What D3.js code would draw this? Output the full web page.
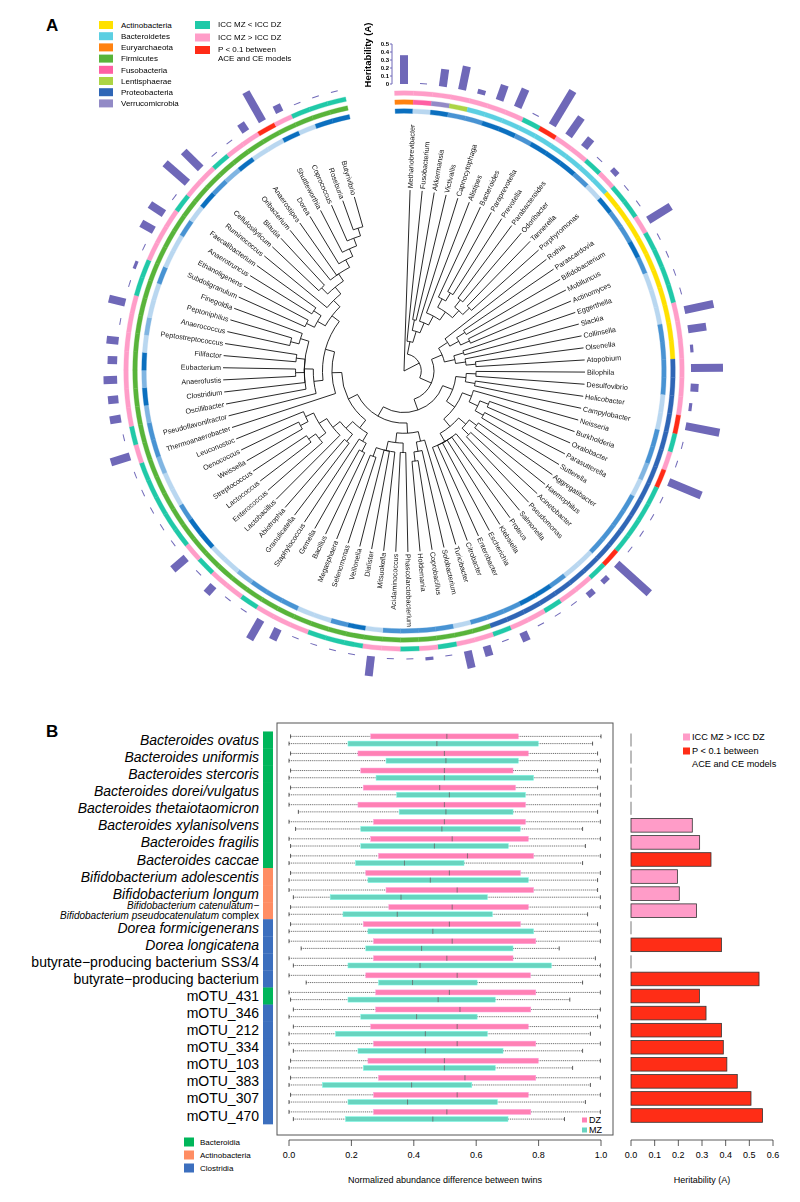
<!DOCTYPE html>
<html>
<head>
<meta charset="utf-8">
<script src="https://cdn.jsdelivr.net/npm/d3@7"></script>
<style>
  body { margin: 0; background: #fff; }
  svg { font-family: "Liberation Sans", Arial, sans-serif; }
</style>
</head>
<body>
<svg id="chart" width="800" height="1202"></svg>
<script>
// ---------------- data: panel A ----------------
const genera = ["Methanobrevibacter","Fusobacterium","Akkermansia","Victivallis","Capnocytophaga","Alistipes",
  "Bacteroides","Paraprevotella","Prevotella","Parabacteroides","Odoribacter","Tannerella","Porphyromonas",
  "Rothia","Parascardovia","Bifidobacterium","Mobiluncus","Actinomyces","Eggerthella","Slackia","Collinsella",
  "Olsenella","Atopobium","Bilophila","Desulfovibrio","Helicobacter","Campylobacter","Neisseria","Burkholderia",
  "Oxalobacter","Parasutterella","Sutterella","Aggregatibacter","Haemophilus","Acinetobacter","Pseudomonas",
  "Salmonella","Proteus","Klebsiella","Escherichia","Enterobacter","Citrobacter","Turicibacter","Solobacterium",
  "Coprobacillus","Holdemania","Phascolarctobacterium","Acidaminococcus","Mitsuokella","Dialister","Veillonella",
  "Selenomonas","Megasphaera","Bacillus","Gemella","Staphylococcus","Granulicatella","Abiotrophia","Lactobacillus",
  "Enterococcus","Lactococcus","Streptococcus","Weissella","Oenococcus","Leuconostoc","Thermoanaerobacter",
  "Pseudoflavonifractor","Oscillibacter","Clostridium","Anaerofustis","Eubacterium","Filifactor",
  "Peptostreptococcus","Anaerococcus","Peptoniphilus","Finegoldia","Subdoligranulum","Ethanoligenens",
  "Anaerotruncus","Faecalibacterium","Ruminococcus","Cellulosilyticum","Blautia","Oribacterium","Anaerostipes",
  "Dorea","Shuttleworthia","Coprococcus","Roseburia","Butyrivibrio"];

// tree topology (leaf order = genera)
const bacteroidetes = ["Capnocytophaga", ["Alistipes", [["Bacteroides", ["Paraprevotella", "Prevotella"]],
  [["Parabacteroides", "Odoribacter"], ["Tannerella", "Porphyromonas"]]]]];
const actino = [
  ["Rothia", [["Parascardovia", "Bifidobacterium"], ["Mobiluncus", "Actinomyces"]]],
  [["Eggerthella", "Slackia"], ["Collinsella", ["Olsenella", "Atopobium"]]]
];
const proteo = [
  [["Bilophila", "Desulfovibrio"], ["Helicobacter", "Campylobacter"]],
  [
    ["Neisseria", [["Burkholderia", "Oxalobacter"], ["Parasutterella", "Sutterella"]]],
    [
      [["Aggregatibacter", "Haemophilus"], ["Acinetobacter", "Pseudomonas"]],
      ["Salmonella", "Proteus", "Klebsiella", "Escherichia", "Enterobacter", "Citrobacter"]
    ]
  ]
];
const erysipelo = ["Turicibacter", ["Solobacterium", ["Coprobacillus", "Holdemania"]]];
const negativi = [["Phascolarctobacterium", "Acidaminococcus"],
  ["Mitsuokella", "Dialister", "Veillonella", ["Selenomonas", "Megasphaera"]]];
const bacilli = [
  [["Bacillus", "Gemella"], "Staphylococcus"],
  [["Granulicatella", "Abiotrophia"], ["Lactobacillus", [["Enterococcus", ["Lactococcus", "Streptococcus"]],
    [["Weissella", "Oenococcus"], "Leuconostoc"]]]]
];
const lachno = ["Oribacterium", "Anaerostipes", ["Dorea", ["Shuttleworthia", ["Coprococcus", ["Roseburia", "Butyrivibrio"]]]]];
const clostridia = [
  "Thermoanaerobacter",
  [
    ["Pseudoflavonifractor", ["Oscillibacter", "Clostridium", ["Anaerofustis", "Eubacterium"],
      ["Filifactor", "Peptostreptococcus"], [["Anaerococcus", "Peptoniphilus"], "Finegoldia"]]],
    [
      [["Subdoligranulum", "Ethanoligenens"], ["Anaerotruncus", "Faecalibacterium"]],
      ["Ruminococcus", [["Cellulosilyticum", "Blautia"], lachno]]
    ]
  ]
];
const tree = ["Methanobrevibacter", [["Fusobacterium", [["Akkermansia", "Victivallis"], bacteroidetes]],
  [actino, [proteo, [[erysipelo, negativi], [bacilli, clostridia]]]]]];

// phylum of each leaf, as runs in leaf order
const phylumRuns = [["Euryarchaeota", 1], ["Fusobacteria", 1], ["Verrucomicrobia", 1], ["Lentisphaerae", 1],
  ["Bacteroidetes", 9], ["Actinobacteria", 10], ["Proteobacteria", 19], ["Firmicutes", 48]];
const phyla = ["Actinobacteria","Bacteroidetes","Euryarchaeota","Firmicutes","Fusobacteria","Lentisphaerae","Proteobacteria","Verrucomicrobia"];
const phylumColors = ["#ffe100","#5ccfe2","#ff8210","#58b43a","#ff5fa3","#acd444","#2f66b6","#928ac6"];

// inner ring shade per leaf (d dark, m medium, l light, v very light)
const innerShade = ["d","v","d","m","m","d","d","m","d","d","d","m","v","d","m","m","d","m","v","v",
  "v","m","m","m","m","v","v","m","m","l","v","m","m","m","m","v","v","m","d","d",
  "m","m","m","v","m","m","m","m","v","d","m","v","v","m","m","m","l","v","v","d",
  "d","m","v","v","l","m","m","l","d","l","d","v","l","v","v","m","v","v","m","v",
  "d","m","l","d","v","v","d","v","d","d"];

// ICC ring per leaf: T = ICC MZ < ICC DZ, P = ICC MZ > ICC DZ, R = P < 0.1
const iccCode = ["P","P","P","P","P","P","P","T","R","P","P","T","P","T","T","P","T","T","T","T",
  "P","P","P","P","P","P","R","T","P","R","T","T","T","T","R","T","P","P","T","P",
  "P","T","P","P","T","P","T","P","P","T","T","T","P","P","P","T","P","P","T","P",
  "T","T","T","T","T","P","T","P","P","P","P","P","P","P","T","T","P","P","P","T",
  "P","P","T","P","P","R","P","T","T","T"];
const iccLegend = ["ICC MZ < ICC DZ", "ICC MZ > ICC DZ", "P < 0.1 between|ACE and CE models"];
const iccColors = {T: "#20c9a8", P: "#ff9dc8", R: "#ff2b17"};

// heritability (A) per leaf
const heritA = [0.36,0,0.22,0.30,0.06,0.20,0.25,0,0.50,0.28,0.14,0,0.07,0,0,0.33,0,0,0,0,
  0.37,0.23,0.04,0.40,0.10,0.04,0.43,0,0,0.44,0,0,0,0,0.55,0.07,0.08,0,0,0,
  0.12,0,0.13,0.22,0,0.04,0,0,0.25,0,0,0,0,0.15,0.28,0,0,0.13,0,0.22,
  0,0,0,0,0,0.25,0,0.14,0.13,0.17,0.12,0.15,0,0.21,0,0.04,0,0.18,0.21,0,
  0.37,0.30,0,0,0.12,0.42,0.10,0,0,0];
const heritTicks = [0, 0.1, 0.2, 0.3, 0.4, 0.5];

// ---------------- data: panel B ----------------
const speciesLabels = ["Bacteroides ovatus","Bacteroides uniformis","Bacteroides stercoris","Bacteroides dorei/vulgatus",
  "Bacteroides thetaiotaomicron","Bacteroides xylanisolvens","Bacteroides fragilis","Bacteroides caccae",
  "Bifidobacterium adolescentis","Bifidobacterium longum",
  "Bifidobacterium catenulatum\u2212|Bifidobacterium pseudocatenulatum| complex",
  "Dorea formicigenerans","Dorea longicatena","butyrate\u2212producing bacterium SS3/4","butyrate\u2212producing bacterium",
  "mOTU_431","mOTU_346","mOTU_212","mOTU_334","mOTU_103","mOTU_383","mOTU_307","mOTU_470"];
const italicRows = 13;
const speciesClass = ["Bacteroidia","Bacteroidia","Bacteroidia","Bacteroidia","Bacteroidia","Bacteroidia","Bacteroidia","Bacteroidia",
  "Actinobacteria","Actinobacteria","Actinobacteria","Clostridia","Clostridia","Clostridia","Clostridia",
  "Bacteroidia","Clostridia","Clostridia","Clostridia","Clostridia","Clostridia","Clostridia","Clostridia"];
const classNames = ["Bacteroidia", "Actinobacteria", "Clostridia"];
const classColors = ["#00b65a", "#ff8d63", "#3c6fbe"];

// [min, Q1, median, Q3, max] of normalized abundance difference
const dzStats = [
  [0.005,0.262,0.506,0.735,1.0],[0.005,0.221,0.498,0.767,0.989],[0.005,0.230,0.498,0.718,0.989],
  [0.005,0.238,0.483,0.726,0.989],[0.0,0.221,0.498,0.758,0.998],[0.0,0.271,0.498,0.758,0.998],
  [0.0,0.262,0.523,0.767,0.998],[0.005,0.287,0.572,0.784,0.998],[0.005,0.246,0.514,0.742,0.998],
  [0.0,0.311,0.539,0.784,0.989],[0.005,0.320,0.523,0.767,0.998],[0.005,0.238,0.514,0.742,0.989],
  [0.0,0.271,0.523,0.791,0.998],[0.0,0.271,0.506,0.718,0.982],[0.0,0.246,0.539,0.774,0.998],
  [0.0,0.278,0.514,0.791,0.998],[0.014,0.278,0.548,0.775,0.998],[0.014,0.262,0.539,0.767,0.998],
  [0.0,0.271,0.539,0.791,0.998],[0.005,0.253,0.498,0.799,0.998],[0.005,0.287,0.564,0.791,0.998],
  [0.005,0.271,0.539,0.767,0.998],[0.0,0.271,0.506,0.775,0.998]];
const mzStats = [
  [0.0,0.189,0.474,0.799,0.973],[0.0,0.311,0.503,0.735,0.998],[0.0,0.279,0.498,0.784,0.998],
  [0.0,0.345,0.514,0.758,0.998],[0.030,0.353,0.503,0.718,0.989],[0.021,0.230,0.490,0.741,0.941],
  [0.005,0.230,0.466,0.703,0.950],[0.0,0.213,0.370,0.561,0.941],[0.0,0.253,0.453,0.767,0.989],
  [0.014,0.132,0.359,0.636,0.998],[0.0,0.173,0.347,0.652,0.957],[0.0,0.253,0.461,0.784,0.998],
  [0.039,0.246,0.425,0.718,0.866],[0.014,0.189,0.420,0.841,0.998],[0.055,0.287,0.396,0.603,0.941],
  [0.005,0.189,0.478,0.661,0.900],[0.0,0.230,0.409,0.603,0.989],[0.0,0.149,0.437,0.636,0.966],
  [0.014,0.221,0.437,0.686,0.941],[0.0,0.238,0.498,0.661,0.909],[0.0,0.107,0.393,0.586,0.966],
  [0.0,0.189,0.380,0.668,0.950],[0.014,0.181,0.461,0.702,0.883]];
const heritB = [0,0,0,0,0,0.259,0.290,0.338,0.196,0.204,0.277,0,0.382,0,0.541,
  0.289,0.317,0.382,0.390,0.405,0.449,0.507,0.556];
const heritBSig = [0,0,0,0,0,0,0,1,0,0,0,0,1,0,1,1,1,1,1,1,1,1,1];
const diffTicks = [0, 0.2, 0.4, 0.6, 0.8, 1.0];
const heritBTicks = [0, 0.1, 0.2, 0.3, 0.4, 0.5, 0.6];

// ================= panel A =================
const svg = d3.select('#chart');
const cx = 404, cy = 371;
const rad = Math.PI / 180;
const gA = svg.append('g').attr('transform', `translate(${cx},${cy})`);

const angle = d3.scalePoint().domain(genera).range([0, 346]);
const step = angle.step();
const leafR = 181;

const root = d3.hierarchy(tree, d => Array.isArray(d) ? d : null);
d3.cluster().size([346, 1]).separation(() => 1)(root);
const maxDepth = d3.max(root.descendants().filter(d => d.children), d => d.depth);
const rNode = d3.scalePow().exponent(0.8).domain([0, maxDepth]).range([0, 150]);
root.each(d => { d.r = d.children ? rNode(d.depth) : leafR; });

const P = (a, r) => [r * Math.sin(a * rad), -r * Math.cos(a * rad)];
function elbow(l) {
  const s = l.source, t = l.target;
  const [x1, y1] = P(t.x, t.r), [x2, y2] = P(t.x, s.r), [x3, y3] = P(s.x, s.r);
  const sweep = s.x > t.x ? 1 : 0;
  const large = Math.abs(s.x - t.x) > 180 ? 1 : 0;
  return `M${x1},${y1}L${x2},${y2}A${s.r},${s.r} 0 ${large} ${sweep} ${x3},${y3}`;
}

gA.append('g').selectAll('path').data(root.links()).join('path')
  .attr('d', elbow).attr('fill', 'none').attr('stroke', '#111').attr('stroke-width', 0.9);

// opacity < 1 keeps the small rotated labels in grey antialiasing
gA.append('g').attr('opacity', 0.99).selectAll('text').data(root.leaves()).join('text')
  .attr('transform', d => `rotate(${d.x - 90}) translate(${leafR + 2},0)${d.x >= 180 ? ' rotate(180)' : ''}`)
  .attr('text-anchor', d => d.x >= 180 ? 'end' : 'start')
  .attr('dy', '0.35em').attr('font-size', 7.2).attr('fill', '#111')
  .text(d => d.data);

// rings
const leafPhylum = phylumRuns.flatMap(([p, n]) => d3.range(n).map(() => p));
const phylumColor = d3.scaleOrdinal().domain(phyla).range(phylumColors);
const shadeColor = d3.scaleOrdinal().domain(["d","m","l","v"]).range(["#0b6fbf","#4893d3","#80b5e2","#b9d7f0"]);
const arc = d3.arc();
function ring(r, w, colorOf) {
  gA.append('g').selectAll('path').data(genera).join('path')
    .attr('d', d => arc({innerRadius: r - w / 2, outerRadius: r + w / 2,
      startAngle: (angle(d) - step / 2) * rad, endAngle: (angle(d) + step / 2) * rad}))
    .attr('fill', (d, i) => colorOf(i)).attr('stroke', (d, i) => colorOf(i)).attr('stroke-width', 0.3);
}
ring(260, 4.5, i => shadeColor(innerShade[i]));
ring(269, 4.5, i => phylumColor(leafPhylum[i]));
ring(278, 4.5, i => iccColors[iccCode[i]]);

// heritability bars
const barBase = 287;
const hScale = d3.scaleLinear().domain([0, 0.5]).range([0, 40]);
const hColor = '#6f68b8';
const bars = gA.append('g').selectAll('g').data(genera).join('g')
  .attr('transform', d => `rotate(${angle(d)})`);
bars.filter((d, i) => heritA[i] > 0).append('rect')
  .attr('x', -4).attr('width', 8)
  .attr('y', d => -(barBase + hScale(heritA[genera.indexOf(d)])))
  .attr('height', d => hScale(heritA[genera.indexOf(d)]))
  .attr('fill', hColor);
bars.filter((d, i) => heritA[i] === 0).append('line')
  .attr('x1', -3.5).attr('x2', 3.5).attr('y1', -(barBase + 1)).attr('y2', -(barBase + 1))
  .attr('stroke', hColor).attr('stroke-width', 1);

// heritability axis
const axX = 392;
const axScale = d3.scaleLinear().domain([0, 0.5]).range([cy - barBase, cy - barBase - 40]);
const axG = svg.append('g').attr('transform', `translate(${axX},0)`);
axG.append('line').attr('y1', axScale(0)).attr('y2', axScale(0.5)).attr('stroke', hColor).attr('stroke-width', 1);
axG.selectAll('line.t').data(heritTicks).join('line').attr('class', 't')
  .attr('x1', -2).attr('x2', 0).attr('y1', d => axScale(d)).attr('y2', d => axScale(d))
  .attr('stroke', hColor);
axG.selectAll('text').data(heritTicks).join('text')
  .attr('x', -3).attr('y', d => axScale(d)).attr('dy', '0.35em').attr('text-anchor', 'end')
  .attr('font-size', 6).attr('font-weight', 'bold').text(d => d === 0 ? '0' : d.toFixed(1));
svg.append('text').attr('transform', `translate(371,55) rotate(-90)`).attr('text-anchor', 'middle')
  .attr('font-size', 9.5).attr('font-weight', 'bold').text('Heritability (A)');

// panel A legends
svg.append('text').attr('x', 46).attr('y', 31).attr('font-size', 17).attr('font-weight', 'bold').text('A');
const legA = svg.append('g').selectAll('g').data(phyla).join('g')
  .attr('transform', (d, i) => `translate(99,${25 + i * 11.2})`);
legA.append('rect').attr('x', 0).attr('y', -4).attr('width', 14).attr('height', 8).attr('fill', d => phylumColor(d));
legA.append('text').attr('x', 22).attr('dy', '0.35em').attr('font-size', 8).text(d => d);

const legI = svg.append('g').selectAll('g').data(iccLegend).join('g')
  .attr('transform', (d, i) => `translate(195,${25 + i * 12.5})`);
legI.append('rect').attr('x', 0).attr('y', -4).attr('width', 15).attr('height', 8)
  .attr('fill', (d, i) => iccColors[["T", "P", "R"][i]]);
legI.append('text').attr('x', 23).attr('font-size', 8)
  .selectAll('tspan').data(d => d.split('|')).join('tspan')
  .attr('x', 23).attr('y', (d, i) => i * 8.5).attr('dy', '0.3em').text(d => d);

// ================= panel B =================
svg.append('text').attr('x', 46).attr('y', 737).attr('font-size', 17).attr('font-weight', 'bold').text('B');

const rows = d3.range(speciesLabels.length);
const yRow = d3.scalePoint().domain(rows).range([740, 1115.5]);
const rowH = yRow.step();
const xB = d3.scaleLinear().domain([0, 1]).range([289, 601]);
const xH = d3.scaleLinear().domain([0, 0.6]).range([631, 773]);
const classColor = d3.scaleOrdinal().domain(classNames).range(classColors);

// labels
const labG = svg.append('g');
rows.forEach(i => {
  const lab = speciesLabels[i];
  if (lab.includes('|')) {
    const parts = lab.split('|');
    const t = labG.append('text').attr('text-anchor', 'end').attr('font-size', 10);
    t.append('tspan').attr('x', 259).attr('y', yRow(i) - 5.5).attr('dy', '0.35em')
      .attr('font-style', 'italic').text(parts[0]);
    t.append('tspan').attr('x', 259).attr('y', yRow(i) + 5).attr('dy', '0.35em')
      .attr('font-style', 'italic').text(parts[1]);
    t.append('tspan').text(parts[2]);
  } else {
    labG.append('text').attr('x', 259).attr('y', yRow(i)).attr('dy', '0.36em')
      .attr('text-anchor', 'end').attr('font-size', 14)
      .attr('font-style', i < italicRows ? 'italic' : 'normal').text(lab);
  }
});

// class bar
svg.append('g').selectAll('rect').data(rows).join('rect')
  .attr('x', 263).attr('width', 10)
  .attr('y', i => yRow(i) - rowH / 2).attr('height', rowH + 0.3)
  .attr('fill', i => classColor(speciesClass[i]));

// box frame
svg.append('rect').attr('x', 277).attr('y', 723).attr('width', 336).attr('height', 412)
  .attr('fill', 'none').attr('stroke', '#555').attr('stroke-width', 1);

function drawBoxes(stats, offset, fill) {
  const g = svg.append('g');
  stats.forEach((s, i) => {
    const y = yRow(i) + offset;
    const [mn, q1, md, q3, mx] = s;
    g.append('line').attr('x1', xB(mn)).attr('x2', xB(q1)).attr('y1', y).attr('y2', y)
      .attr('stroke', '#333').attr('stroke-width', 0.7).attr('stroke-dasharray', '1.1,0.8');
    g.append('line').attr('x1', xB(q3)).attr('x2', xB(mx)).attr('y1', y).attr('y2', y)
      .attr('stroke', '#333').attr('stroke-width', 0.7).attr('stroke-dasharray', '1.1,0.8');
    [mn, mx].forEach(v => g.append('line').attr('x1', xB(v)).attr('x2', xB(v))
      .attr('y1', y - 2).attr('y2', y + 2).attr('stroke', '#333').attr('stroke-width', 0.8));
    g.append('rect').attr('x', xB(q1)).attr('width', xB(q3) - xB(q1)).attr('y', y - 2.5).attr('height', 5)
      .attr('fill', fill).attr('stroke', d3.color(fill).brighter(0.6)).attr('stroke-width', 0.5);
    g.append('line').attr('x1', xB(md)).attr('x2', xB(md)).attr('y1', y - 2.5).attr('y2', y + 2.5)
      .attr('stroke', '#666').attr('stroke-width', 0.8);
  });
}
drawBoxes(dzStats, -3.6, '#ff80b4');
drawBoxes(mzStats, 3.6, '#68d4bf');

// DZ / MZ legend
[["DZ", "#ff80b4", 1120], ["MZ", "#68d4bf", 1130]].forEach(([t, c, y]) => {
  svg.append('rect').attr('x', 582).attr('y', y - 2.5).attr('width', 5).attr('height', 5).attr('fill', c);
  svg.append('text').attr('x', 589).attr('y', y).attr('dy', '0.35em').attr('font-size', 9).text(t);
});

// heritability bars in B
const hb = svg.append('g');
rows.forEach(i => {
  const v = heritB[i];
  if (v > 0) {
    hb.append('rect').attr('x', xH(0)).attr('width', xH(v) - xH(0))
      .attr('y', yRow(i) - 6.8).attr('height', 13.6)
      .attr('fill', heritBSig[i] ? '#ff2d16' : '#ff9cc8')
      .attr('stroke', '#333').attr('stroke-width', 0.8);
  } else {
    hb.append('line').attr('x1', xH(0)).attr('x2', xH(0))
      .attr('y1', yRow(i) - 6.5).attr('y2', yRow(i) + 6.5).attr('stroke', '#555').attr('stroke-width', 0.8);
  }
});

// legend for heritability bars
[["ICC MZ > ICC DZ", "#ff9cc8", 737], ["P < 0.1 between|ACE and CE models", "#ff2d16", 751]].forEach(([t, c, y]) => {
  svg.append('rect').attr('x', 683).attr('y', y - 3.5).attr('width', 7).attr('height', 7).attr('fill', c);
  t.split('|').forEach((s, k) => svg.append('text').attr('x', 692).attr('y', y + k * 12.5).attr('dy', '0.35em')
    .attr('font-size', 9.2).text(s));
});

// axes
function axisB(scale, ticks, fmt) {
  const g = svg.append('g').attr('transform', 'translate(0,1140)');
  g.append('line').attr('x1', scale(ticks[0])).attr('x2', scale(ticks[ticks.length - 1]))
    .attr('stroke', '#333').attr('stroke-width', 0.8);
  g.selectAll('line.t').data(ticks).join('line').attr('class', 't')
    .attr('x1', d => scale(d)).attr('x2', d => scale(d)).attr('y1', 0).attr('y2', 6)
    .attr('stroke', '#333').attr('stroke-width', 0.8);
  g.selectAll('text').data(ticks).join('text')
    .attr('x', d => scale(d)).attr('y', 18).attr('text-anchor', 'middle').attr('font-size', 9)
    .text(fmt);
}
axisB(xB, diffTicks, d => d.toFixed(1));
axisB(xH, heritBTicks, d => d.toFixed(1));
svg.append('text').attr('x', 445).attr('y', 1183).attr('text-anchor', 'middle').attr('font-size', 9)
  .text('Normalized abundance difference between twins');
svg.append('text').attr('x', 702).attr('y', 1183).attr('text-anchor', 'middle').attr('font-size', 9)
  .text('Heritability (A)');

// class legend
const legB = svg.append('g').selectAll('g').data(classNames).join('g')
  .attr('transform', (d, i) => `translate(184,${1142 + i * 13})`);
legB.append('rect').attr('y', -4.5).attr('width', 10).attr('height', 9).attr('fill', d => classColor(d));
legB.append('text').attr('x', 16).attr('dy', '0.35em').attr('font-size', 8).text(d => d);
</script>
</body>
</html>
